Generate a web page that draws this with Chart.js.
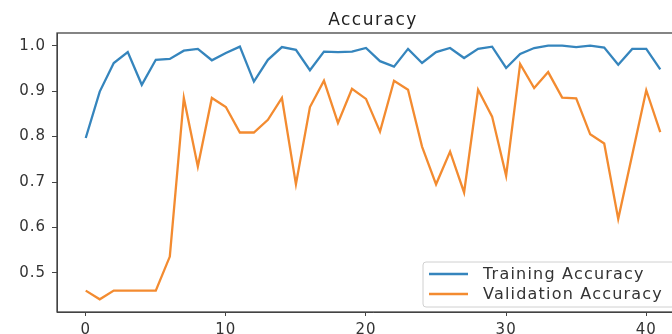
<!DOCTYPE html>
<html>
<head>
<meta charset="utf-8">
<script src="https://cdn.jsdelivr.net/npm/chart.js@4/dist/chart.umd.min.js"></script>
<style>
  html, body { margin: 0; padding: 0; background: #fff; overflow: hidden; }
  #wrap { width: 690px; height: 334px; }
</style>
</head>
<body>
<div id="wrap"><canvas id="accChart" width="690" height="334"></canvas></div>
<script>
// ------------------------
// DATA
// ------------------------
const titleText = 'Accuracy';
const trainLabel = 'Training Accuracy';
const valLabel = 'Validation Accuracy';

const trainAcc = [0.797, 0.899, 0.962, 0.986, 0.914, 0.969, 0.971, 0.989, 0.993, 0.968,
                  0.984, 0.998, 0.921, 0.969, 0.997, 0.991, 0.946, 0.987, 0.986, 0.987,
                  0.995, 0.966, 0.954, 0.993, 0.962, 0.986, 0.995, 0.973, 0.993, 0.998,
                  0.951, 0.982, 0.995, 1.000, 1.000, 0.997, 1.000, 0.996, 0.958, 0.993,
                  0.993, 0.948];
const valAcc = [0.461, 0.442, 0.461, 0.461, 0.461, 0.461, 0.536, 0.885, 0.734, 0.885,
                0.865, 0.809, 0.809, 0.837, 0.885, 0.695, 0.865, 0.923, 0.830, 0.905,
                0.883, 0.811, 0.923, 0.903, 0.778, 0.695, 0.767, 0.677, 0.903, 0.844,
                0.714, 0.960, 0.907, 0.942, 0.886, 0.884, 0.805, 0.785, 0.619, 0.760,
                0.902, 0.810];

const xTicks = [0, 10, 20, 30, 40];
const yTicks = [0.5, 0.6, 0.7, 0.8, 0.9, 1.0];

const blue = '#3585bd';
const orange = '#f38b30';

// frame, title and a matplotlib-like legend inside the plot
const mplDecor = {
    id: 'mplDecor',
    beforeDraw(chart) {
        chart.ctx.letterSpacing = '1px';
    },
    afterDraw(chart) {
        const ctx = chart.ctx;
        const a = chart.chartArea;
        ctx.save();
        ctx.strokeStyle = '#444';
        ctx.lineWidth = 1.3;
        ctx.strokeRect(a.left, a.top, a.right - a.left, a.bottom - a.top);

        // title
        ctx.fillStyle = '#222';
        ctx.font = '17px "DejaVu Sans"';
        ctx.letterSpacing = '1.5px';
        ctx.textAlign = 'center';
        ctx.textBaseline = 'middle';
        ctx.fillText(titleText, (a.left + a.right) / 2, 21);

        // legend
        const bx = 423, by = 262, bw = 270, bh = 45;
        ctx.fillStyle = 'rgba(255,255,255,0.85)';
        ctx.strokeStyle = '#d0d0d0';
        ctx.lineWidth = 1;
        ctx.beginPath();
        ctx.roundRect(bx, by, bw, bh, 3);
        ctx.fill();
        ctx.stroke();

        const items = [[trainLabel, blue, 274], [valLabel, orange, 294]];
        ctx.font = '16px "DejaVu Sans"';
        ctx.letterSpacing = '1.2px';
        ctx.textAlign = 'left';
        items.forEach(([label, color, y]) => {
            ctx.strokeStyle = color;
            ctx.lineWidth = 2.3;
            ctx.beginPath();
            ctx.moveTo(429, y);
            ctx.lineTo(468, y);
            ctx.stroke();
            ctx.fillStyle = '#333';
            ctx.fillText(label, 483, y + 1);
        });
        ctx.restore();
    }
};

new Chart(document.getElementById('accChart').getContext('2d'), {
    type: 'line',
    data: {
        datasets: [
            {
                label: trainLabel,
                data: trainAcc.map((v, i) => ({ x: i, y: v })),
                borderColor: blue,
                borderWidth: 2.3,
                pointRadius: 0,
                tension: 0
            },
            {
                label: valLabel,
                data: valAcc.map((v, i) => ({ x: i, y: v })),
                borderColor: orange,
                borderWidth: 2.3,
                pointRadius: 0,
                tension: 0
            }
        ]
    },
    options: {
        responsive: false,
        animation: false,
        devicePixelRatio: 1,
        layout: { padding: { top: 33, left: 0, right: 1, bottom: 0 } },
        plugins: {
            legend: { display: false },
            title: { display: false },
            tooltip: { enabled: false }
        },
        scales: {
            x: {
                type: 'linear',
                min: -2.05,
                max: 43.05,
                afterBuildTicks: s => { s.ticks = xTicks.map(v => ({ value: v })); },
                afterFit: s => { s.height = 22; },
                grid: { drawOnChartArea: false, drawTicks: true, tickLength: 4, color: '#444' },
                border: { display: true, color: '#444' },
                ticks: {
                    padding: 5,
                    color: '#333',
                    font: { family: 'DejaVu Sans', size: 15 },
                    maxRotation: 0
                }
            },
            y: {
                min: 0.414,
                max: 1.028,
                afterBuildTicks: s => { s.ticks = yTicks.map(v => ({ value: v })); },
                afterFit: s => { s.width = 57; },
                grid: { drawOnChartArea: false, drawTicks: true, tickLength: 5, color: '#444' },
                border: { display: true, color: '#444' },
                ticks: {
                    padding: 6,
                    color: '#333',
                    font: { family: 'DejaVu Sans', size: 15 },
                    callback: v => v.toFixed(1)
                }
            }
        }
    },
    plugins: [mplDecor]
});
</script>
</body>
</html>
